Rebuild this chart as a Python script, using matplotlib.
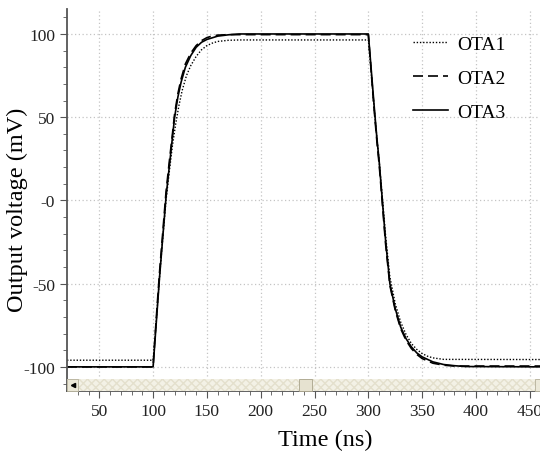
import matplotlib
matplotlib.use('Agg')
from matplotlib import pyplot as plt
from matplotlib.patches import Rectangle

# OTA1 - dotted curve
t_ota1 = [20, 100, 102, 104, 106, 108, 110, 112, 115, 118, 121, 124, 127, 131, 135, 140, 145, 150, 155, 160, 170, 180,
          300, 302, 304, 306, 308, 310, 313, 316, 320, 325, 330, 335, 340, 345, 350, 355, 360, 370, 460]
v_ota1 = [-96, -96, -80, -63, -46, -30, -15, 0, 17, 33, 46, 57, 66, 75, 81, 86.5, 90.5, 93, 94.5, 95.5, 96.2, 96.4,
          96.4, 82, 66, 51, 37, 24, 2, -21, -46, -62, -73, -80.5, -86, -89.5, -92, -93.6, -94.6, -95.5, -95.6]

# OTA2 - dashed curve
t_ota2 = [20, 100, 102, 104, 106, 108, 110, 112, 115, 118, 120, 123, 126, 130, 135, 140, 145, 150, 155, 160, 170,
          300, 302, 304, 306, 308, 310, 313, 316, 320, 325, 330, 335, 340, 345, 350, 360, 370, 380, 460]
v_ota2 = [-100, -100, -80, -61, -43, -27, -11, 5, 23, 40, 52, 64, 73, 82, 88.5, 93, 96, 97.8, 98.8, 99.3, 99.6,
          99.6, 83, 66, 50, 35, 22, -2, -26, -51, -66, -77, -84, -89, -92.5, -95, -97.8, -99, -99.5, -99.5]

# OTA3 - solid curve
t_ota3 = [20, 100, 102, 104, 106, 108, 110, 112, 115, 118, 120, 123, 126, 130, 135, 140, 145, 150, 160, 170, 180,
          300, 302, 304, 306, 308, 310, 313, 316, 320, 325, 330, 335, 340, 345, 350, 360, 370, 380, 390, 460]
v_ota3 = [-100, -100, -82, -64, -46, -30, -14, 2, 20, 38, 50, 62, 71, 80, 87, 92, 95, 96.7, 98.7, 99.5, 100,
          100, 84, 68, 52, 37, 24, 0, -24, -50, -65, -76, -83, -88, -91.6, -94, -97, -98.6, -99.3, -99.8, -100]

x_ticks = [50, 100, 150, 200, 250, 300, 350, 400, 450]
y_ticks = [100, 50, 0, -50, -100]
y_tick_labels = ['100', '50', '-0', '-50', '-100']

plt.rcParams['font.family'] = ['Liberation Serif', 'DejaVu Serif']

fig = plt.figure(figsize=(5.4, 4.52), dpi=100)
ax = fig.add_axes([67 / 540, 1 - 392 / 452, 473 / 540, 382 / 452])

ax.plot(t_ota1, v_ota1, color='black', lw=1.0, linestyle=(0, (1, 1.3)), label='OTA1')
ax.plot(t_ota2, v_ota2, color='black', lw=1.2, linestyle=(0, (6, 3)), label='OTA2')
ax.plot(t_ota3, v_ota3, color='black', lw=1.2, linestyle='-', label='OTA3')

ax.set_xlim(20, 459.5)
ax.set_ylim(-114.5, 115)

ax.set_xticks(x_ticks)
ax.set_xticks(range(30, 460, 10), minor=True)
ax.set_yticks(y_ticks, y_tick_labels)
ax.set_yticks(range(-110, 120, 10), minor=True)

ax.grid(True, which='major', color='#c4c4c4', lw=0.9, linestyle=(0, (1, 2)))
ax.set_axisbelow(True)

# only left and bottom axis lines
ax.spines['right'].set_visible(False)
ax.spines['top'].set_visible(False)
ax.spines['left'].set_color('#555555')
ax.spines['bottom'].set_color('#555555')
ax.spines['left'].set_linewidth(1.3)
ax.spines['bottom'].set_linewidth(1.3)
ax.tick_params(which='major', direction='out', length=5, color='#555555', labelsize=12.5, labelcolor='#222222')
ax.tick_params(which='minor', direction='out', length=3, color='#555555')

# scroll bar strip along the bottom of the plot
bar_h = 12 / 382
ax.add_patch(Rectangle((0, 0), 1, bar_h, transform=ax.transAxes, facecolor='#f3f1e6',
                       edgecolor='#e4e0cd', hatch='xxxx', lw=0, zorder=3, clip_on=False))
ax.add_patch(Rectangle((0, 0), 11 / 473, bar_h, transform=ax.transAxes, facecolor='#ebe8d8',
                       edgecolor='#b5b09a', lw=0.6, zorder=4, clip_on=False))
ax.plot([5.5 / 473], [bar_h / 2], marker='<', ms=3, color='black', transform=ax.transAxes, zorder=5, clip_on=False)
ax.add_patch(Rectangle((232 / 473, 0), 13 / 473, bar_h, transform=ax.transAxes, facecolor='#e6e2d0',
                       edgecolor='#a9a38b', lw=0.6, zorder=4, clip_on=False))
ax.add_patch(Rectangle((468 / 473, 0), 5 / 473, bar_h, transform=ax.transAxes, facecolor='#ebe8d8',
                       edgecolor='#b5b09a', lw=0.6, zorder=4, clip_on=False))

ax.set_xlabel('Time (ns)', fontsize=17.5)
ax.set_ylabel('Output voltage (mV)', fontsize=17.5)
ax.xaxis.set_label_coords(0.545, -0.1)
ax.yaxis.set_label_coords(-0.0825, 0.476)

ax.legend(loc='upper left', bbox_to_anchor=(413 / 540, 1 - 36 / 452), bbox_transform=fig.transFigure,
          frameon=False, fontsize=14, handlelength=1.8, handletextpad=0.5, labelspacing=0.85,
          borderpad=0, borderaxespad=0)

plt.savefig('out.png', dpi=100)
